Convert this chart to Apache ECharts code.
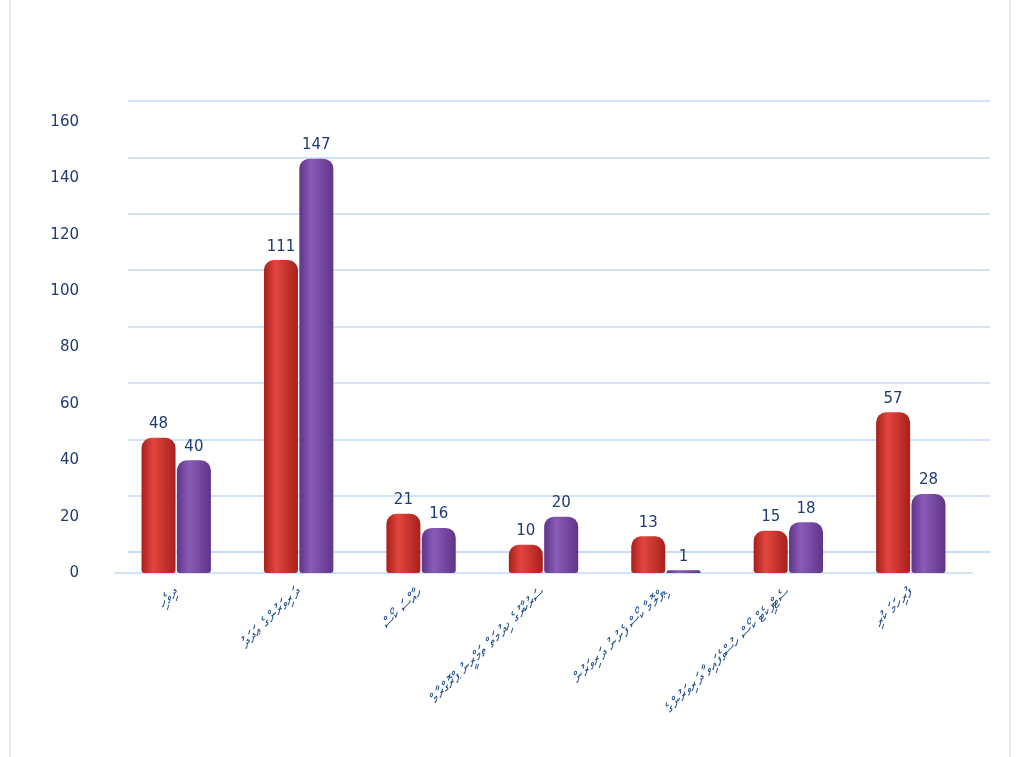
<!DOCTYPE html>
<html lang="dv">
<head>
    <meta charset="UTF-8">
    <title>chart</title>
    <style>
        html, body { margin: 0; padding: 0; background: #fff; }
        #container { width: 1024px; height: 757px; }
    </style>
</head>
<body>
    <div id="container"></div>
    <script src="https://cdn.jsdelivr.net/npm/echarts@6/dist/echarts.min.js"></script>
    <script>
        // data
        const categories = [
            'ދިވެހި',
            'ދަރިވަރުންގެ ޢަދަދު',
            'ހާއްސަ ކޯސް',
            'ސަރުކާރުގެ ޚިދުމަތް ތަމްރީނު ޕްރޮގްރާމް',
            'ޑިޕްލޮމާ ކޯސް ފެށުނު ދަރިވަރުން',
            'ސެޓްފިކެޓް ކޯސް ހުސްވެފައިވާ ދަރިވަރުންގެ',
            'ފުރިހަމަ ކުރި'
        ];
        const redValues = [48, 111, 21, 10, 13, 15, 57];
        const purpleValues = [40, 147, 16, 20, 1, 18, 28];
        const yTicks = { min: 0, max: 160, interval: 20 };

        const cyl = (dark, light) => ({
            type: 'linear', x: 0, y: 0, x2: 1, y2: 0,
            colorStops: [
                { offset: 0, color: dark },
                { offset: 0.35, color: light },
                { offset: 1, color: dark }
            ]
        });

        const labelStyle = {
            show: true,
            position: 'top',
            color: '#1f3b73',
            fontSize: 15,
            fontFamily: 'DejaVu Sans',
            distance: 6
        };

        const option = {
            backgroundColor: '#fff',
            animation: false,
            graphic: [{
                type: 'rect',
                shape: { x: 10, y: -2, width: 1000, height: 770 },
                style: { fill: 'none', stroke: '#d9d9d9', lineWidth: 1 }
            }],
            grid: [
                // bars
                { left: 115, right: 52, top: 122, bottom: 184 },
                // back wall gridlines
                { left: 128, right: 34, top: 101, bottom: 205 }
            ],
            xAxis: [
                {
                    type: 'category',
                    data: categories,
                    gridIndex: 0,
                    axisLine: { show: true, lineStyle: { color: '#c5d9f1', width: 1.5 } },
                    axisTick: { show: false },
                    axisLabel: {
                        rotate: 45,
                        interval: 0,
                        margin: 18,
                        color: '#1f4e8c',
                        fontSize: 15,
                        fontFamily: 'DejaVu Sans'
                    }
                },
                {
                    type: 'category',
                    data: categories,
                    gridIndex: 1,
                    axisLine: { show: true, lineStyle: { color: '#c5d9f1', width: 1.5 } },
                    axisTick: { show: false },
                    axisLabel: { show: false }
                }
            ],
            yAxis: [
                {
                    type: 'value',
                    gridIndex: 0,
                    min: yTicks.min,
                    max: yTicks.max,
                    interval: yTicks.interval,
                    axisLine: { show: false },
                    axisTick: { show: false },
                    splitLine: { show: false },
                    axisLabel: {
                        color: '#1f3b73',
                        fontSize: 15,
                        fontFamily: 'DejaVu Sans',
                        margin: 36
                    }
                },
                {
                    type: 'value',
                    gridIndex: 1,
                    min: yTicks.min,
                    max: yTicks.max,
                    interval: yTicks.interval,
                    axisLine: { show: false },
                    axisTick: { show: false },
                    axisLabel: { show: false },
                    splitLine: { lineStyle: { color: '#c5d9f1', width: 1.5 } }
                }
            ],
            series: [
                {
                    name: 'red',
                    type: 'bar',
                    xAxisIndex: 0,
                    yAxisIndex: 0,
                    data: redValues,
                    barWidth: 34,
                    barGap: '4%',
                    itemStyle: {
                        color: cyl('#a8201c', '#e2463e'),
                        borderRadius: [10, 10, 3, 3]
                    },
                    label: labelStyle,
                    z: 3
                },
                {
                    name: 'purple',
                    type: 'bar',
                    xAxisIndex: 0,
                    yAxisIndex: 0,
                    data: purpleValues,
                    barWidth: 34,
                    itemStyle: {
                        color: cyl('#5f3489', '#8a5cb8'),
                        borderRadius: [10, 10, 3, 3]
                    },
                    label: labelStyle,
                    z: 3
                }
            ]
        };

        const chart = echarts.init(document.getElementById('container'));
        chart.setOption(option);
    </script>
</body>
</html>
